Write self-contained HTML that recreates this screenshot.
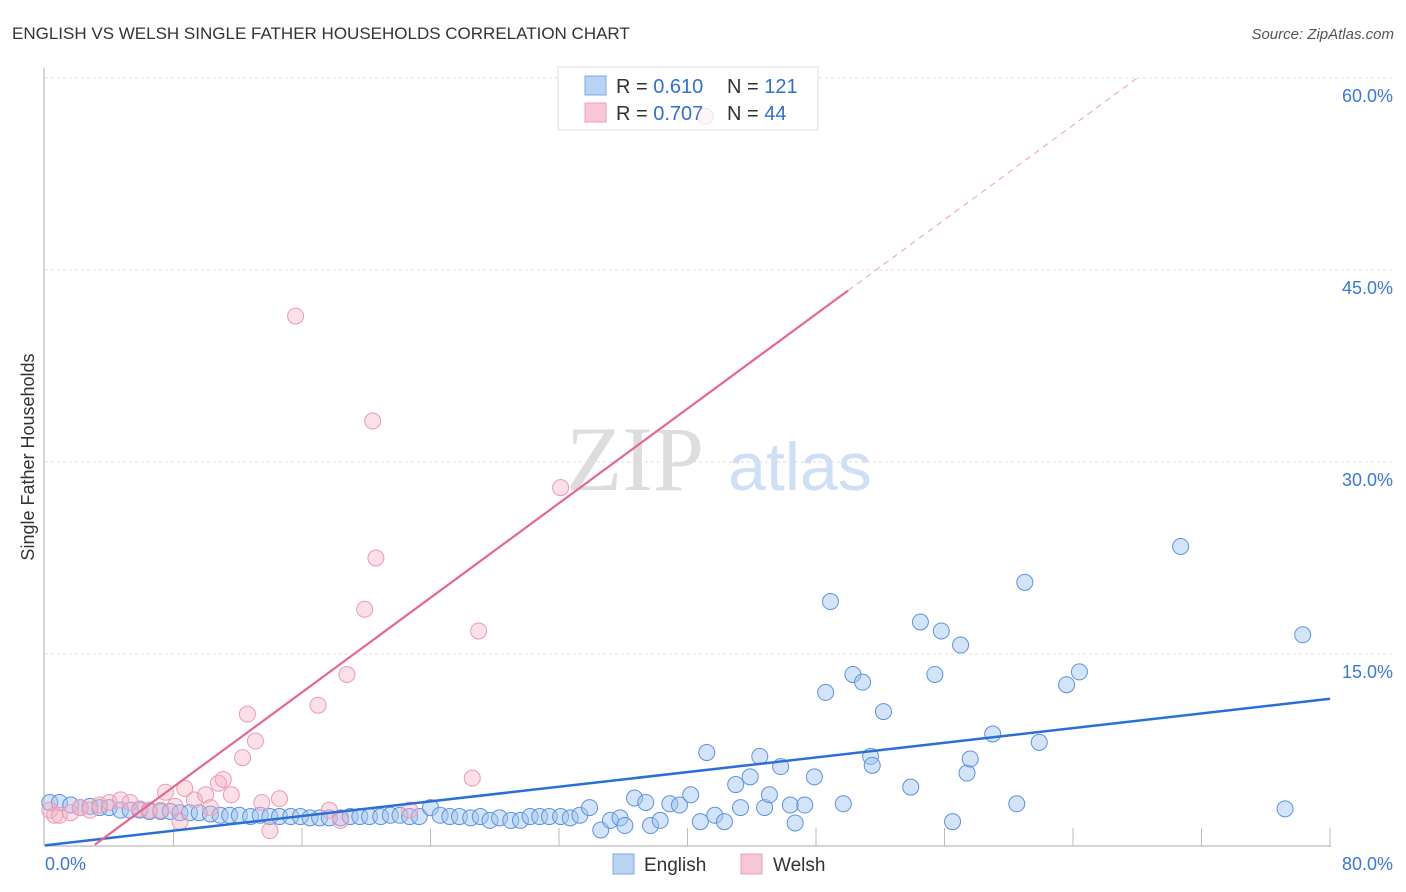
<!DOCTYPE html>
<html><head><meta charset="utf-8"><style>
body{margin:0;background:#fff;font-family:"Liberation Sans",sans-serif;}
svg{display:block}
</style></head><body>
<svg id="c" width="1406" height="892" xmlns="http://www.w3.org/2000/svg">
<text x="12" y="39" font-size="17" fill="#333">ENGLISH VS WELSH SINGLE FATHER HOUSEHOLDS CORRELATION CHART</text>
<text x="1394" y="39" font-size="15" fill="#555" font-style="italic" text-anchor="end">Source: ZipAtlas.com</text>
<text x="34" y="457" font-size="18" fill="#333" text-anchor="middle" transform="rotate(-90 34 457)">Single Father Households</text>
<g><text x="635" y="490" font-size="92" fill="#ddd" font-family="Liberation Serif,serif" text-anchor="middle">ZIP</text><text x="800" y="490" font-size="68" fill="#cfe0f5" text-anchor="middle">atlas</text></g>
<g id="grid"></g><g id="axes"></g>
<g>
<rect x="558" y="67" width="260" height="63" fill="#fff" stroke="#ddd"/>
<rect x="585" y="76" width="21" height="19" fill="#b9d3f5" stroke="#7fa8e6"/>
<rect x="585" y="103" width="21" height="19" fill="#f9c8d6" stroke="#ee9fb6"/>
<text x="616" y="93" font-size="20" fill="#333">R = <tspan fill="#2f6fd6">0.610</tspan></text>
<text x="727" y="93" font-size="20" fill="#333">N = <tspan fill="#2f6fd6">121</tspan></text>
<text x="616" y="120" font-size="20" fill="#333">R = <tspan fill="#2f6fd6">0.707</tspan></text>
<text x="727" y="120" font-size="20" fill="#333">N = <tspan fill="#2f6fd6"> 44</tspan></text>
</g>
<g id="marks"></g>
<g>
<rect x="613" y="854" width="21" height="20" fill="#b9d3f5" stroke="#7fa8e6"/>
<text x="644" y="871" font-size="19" fill="#333">English</text>
<rect x="741" y="854" width="21" height="20" fill="#f9c8d6" stroke="#ee9fb6"/>
<text x="773" y="871" font-size="19" fill="#333">Welsh</text>
</g>
</svg>
<script>
const yTicks=[15,30,45,60];
const yTickLabels=["15.0%","30.0%","45.0%","60.0%"];
const xTickLabels=["0.0%","80.0%"];
const englishX=[0.3,0.9,1.6,2.2,2.8,3.4,4.0,4.7,5.3,5.9,6.5,7.2,7.8,8.4,9.0,9.6,10.3,10.9,11.5,12.1,12.8,13.4,14.0,14.6,15.3,15.9,16.5,17.1,17.7,18.4,19.0,19.6,20.2,20.9,21.5,22.1,22.7,23.3,24.0,24.6,25.2,25.8,26.5,27.1,27.7,28.3,29.0,29.6,30.2,30.8,31.4,32.1,32.7,33.3,33.9,34.6,35.2,35.8,36.1,36.7,37.4,37.7,38.3,38.9,39.5,40.2,40.8,41.2,41.7,42.3,43.0,43.3,43.9,44.5,44.8,45.1,45.8,46.4,46.7,47.3,47.9,48.6,48.9,49.7,50.3,50.9,51.4,51.5,52.2,53.9,54.5,55.4,55.8,56.5,57.0,57.4,57.6,59.0,60.5,61.0,61.9,63.6,64.4,70.7,77.2,78.3];
const englishY=[3.4,3.4,3.2,3.0,3.1,3.0,3.0,2.8,2.8,2.8,2.7,2.7,2.7,2.6,2.6,2.6,2.5,2.4,2.4,2.4,2.3,2.4,2.3,2.3,2.3,2.3,2.2,2.2,2.2,2.2,2.3,2.3,2.3,2.3,2.4,2.4,2.3,2.3,3.0,2.4,2.3,2.3,2.2,2.3,2.0,2.2,2.0,2.0,2.3,2.3,2.3,2.3,2.2,2.4,3.0,1.25,2.0,2.2,1.6,3.75,3.4,1.6,2.0,3.3,3.2,4.0,1.9,7.3,2.4,1.9,4.8,3.0,5.4,7.0,3.0,4.0,6.2,3.2,1.8,3.2,5.4,12.0,19.1,3.3,13.4,12.8,7.0,6.3,10.5,4.6,17.5,13.4,16.8,1.9,15.7,5.7,6.8,8.75,3.3,20.6,8.1,12.6,13.6,23.4,2.9,16.5];
const welshX=[0.3,0.6,0.9,1.6,2.2,2.8,3.4,4.0,4.7,5.3,5.9,6.5,7.2,7.5,8.1,8.4,8.7,9.3,10.0,10.3,10.8,11.1,11.6,12.3,12.6,13.1,13.5,14.0,14.6,15.6,17.0,17.7,18.4,18.8,19.9,20.4,20.6,22.7,26.6,27.0,32.1,41.1];
const welshY=[2.8,2.4,2.4,2.6,3.0,2.8,3.2,3.4,3.6,3.4,2.9,2.8,2.8,4.2,3.1,1.9,4.5,3.6,4.0,3.0,4.9,5.2,4.0,6.9,10.3,8.2,3.4,1.2,3.7,41.4,11.0,2.8,2.0,13.4,18.5,33.2,22.5,2.8,5.3,16.8,28.0,57.0];
const X0=45,X1=1330,Y0=846,Yp=192/15;
const sx=v=>X0+(X1-X0)*v/80, sy=v=>Y0-v*Yp;
const NS="http://www.w3.org/2000/svg";
function mk(t,a,p){const e=document.createElementNS(NS,t);for(const k in a)e.setAttribute(k,a[k]);p.appendChild(e);return e;}
const grid=document.getElementById('grid'),axes=document.getElementById('axes'),marks=document.getElementById('marks');
yTicks.forEach((v,i)=>{
 const g=mk('line',{x1:X0,x2:1394,y1:sy(v),y2:sy(v),stroke:'#ddd','stroke-dasharray':'3 3'},grid);
 
 
 const t=mk('text',{x:1393,y:sy(v)+24,'font-size':18,fill:'#3a78d8','text-anchor':'end'},axes);
 t.textContent=yTickLabels[i];
 
 
});
const ax=mk('line',{x1:44,x2:44,y1:68,y2:846,stroke:'#aaa'},axes);


const bx=mk('line',{x1:44,x2:1331,y1:846,y2:846,stroke:'#aaa'},axes);


for(let i=1;i<=10;i++){
 const t=mk('line',{x1:sx(i*8),x2:sx(i*8),y1:828,y2:846,stroke:'#bbb'},axes);
 
 
}
[[0,'start',45],[80,'end',1393]].forEach((d,i)=>{
 const t=mk('text',{x:d[2],y:870,'font-size':18,fill:'#3a78d8','text-anchor':d[1]},axes);
 t.textContent=xTickLabels[i];
 
 
});
englishX.forEach((x,i)=>{
 const c=mk('circle',{cx:sx(x),cy:sy(englishY[i]),r:8,fill:'rgba(160,196,240,0.45)',stroke:'#5b93e0','stroke-width':1},marks);
 
 
});
welshX.forEach((x,i)=>{
 const c=mk('circle',{cx:sx(x),cy:sy(welshY[i]),r:8,fill:'rgba(246,178,198,0.4)',stroke:'#ec9ab2','stroke-width':1,opacity:welshY[i]>50?0.3:1},marks);
 
 
});
const el=mk('line',{x1:sx(0),y1:sy(0.05),x2:sx(80),y2:sy(11.5),stroke:'#2a6fd6','stroke-width':2.5},marks);


const wl=mk('line',{x1:sx(3.1),y1:sy(0.1),x2:sx(50),y2:sy(43.4),stroke:'#e8668e','stroke-width':2.2},marks);


const wd=mk('line',{x1:sx(50),y1:sy(43.4),x2:sx(68),y2:sy(60),stroke:'#e8a0b6','stroke-width':1,'stroke-dasharray':'6 5'},marks);


</script>
</body></html>
